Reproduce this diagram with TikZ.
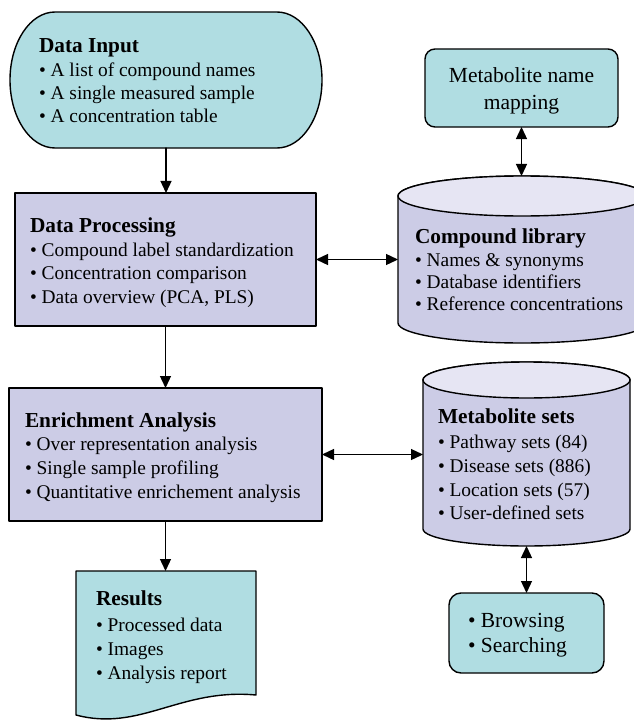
\documentclass[tikz,border=0pt]{standalone}
\usepackage{fontspec}
\setmainfont{Liberation Serif}
\usetikzlibrary{arrows.meta}
\definecolor{tealfill}{RGB}{176,221,226}
\definecolor{lavfill}{RGB}{204,204,230}
\definecolor{lavtop}{RGB}{230,229,243}

\begin{document}
\begin{tikzpicture}[x=1bp, y=1bp, line cap=round, line join=round,
  box/.style={draw=black, line width=1.4bp, inner sep=0pt, outer sep=0pt},
  frame/.style={inner sep=0pt, outer sep=0pt},
  edge/.style={draw=black, line width=1.3bp},
  txt/.style={anchor=base west, inner sep=0pt, outer sep=0pt, font=\fontsize{19.4bp}{23bp}\selectfont},
  head/.style={anchor=base west, inner sep=0pt, outer sep=0pt, font=\fontsize{21.3bp}{24bp}\selectfont\bfseries},
  big/.style={inner sep=0pt, outer sep=0pt, font=\fontsize{21.5bp}{25bp}\selectfont},
  one/.style={-{Triangle[length=12bp,width=11bp]}},
  two/.style={{Triangle[length=12bp,width=11bp]}-{Triangle[length=12bp,width=11bp]}}]
  \useasboundingbox (0,0) rectangle (634,-720);
  % left column
  \path[draw=black, fill=tealfill, line width=1.4bp] (55,-12) -- (277,-12)
    arc[start angle=90, end angle=-90, x radius=45, y radius=68] -- (55,-148)
    arc[start angle=270, end angle=90, x radius=45, y radius=68] -- cycle;
  \node[frame, minimum width=312bp, minimum height=136bp] (input) at (166,-80) {};
  \node[box, fill=lavfill, minimum width=301bp, minimum height=133bp] (proc) at (165.5,-259.5) {};
  \node[box, fill=lavfill, minimum width=313bp, minimum height=133bp] (enrich) at (165.5,-454.5) {};
  \path[draw=black, fill=tealfill, line width=1.4bp] (76,-571) -- (256,-571) -- (256,-695)
    .. controls (180,-688) and (140,-732) .. (76,-715) -- cycle;
  \node[frame, minimum width=180bp, minimum height=138bp] (results) at (166,-640) {};
  % right column
  \node[box, fill=tealfill, rounded corners=10bp, minimum width=193bp, minimum height=78bp] (map) at (521.5,-88) {};
  \path[draw=black, fill=lavfill, line width=1.4bp] (398,-196) -- (398,-323)
    arc[start angle=180, end angle=360, x radius=124, y radius=20] -- (646,-196)
    arc[start angle=0, end angle=180, x radius=124, y radius=20] -- cycle;
  \path[draw=black, fill=lavtop, line width=1.4bp] (522,-196) ellipse[x radius=124, y radius=20];
  \node[frame, minimum width=248bp, minimum height=167bp] (lib) at (522,-259.5) {};
  \path[draw=black, fill=lavfill, line width=1.4bp] (423,-380) -- (423,-529)
    arc[start angle=180, end angle=360, x radius=103.5, y radius=17] -- (630,-380)
    arc[start angle=0, end angle=180, x radius=103.5, y radius=18] -- cycle;
  \path[draw=black, fill=lavtop, line width=1.4bp] (526.5,-380) ellipse[x radius=103.5, y radius=18];
  \node[frame, minimum width=207bp, minimum height=184bp] (sets) at (526.5,-454) {};
  \node[box, fill=tealfill, rounded corners=12bp, minimum width=155bp, minimum height=80bp] (browse) at (526.5,-633) {};
  % texts
  \node[head] (input-head) at (39,-53) {Data Input};
  \node[txt] (input-a) at (39,-77) {• A list of compound names};
  \node[txt] (input-b) at (39,-100) {• A single measured sample};
  \node[txt] (input-c) at (39,-123) {• A concentration table};
  \node[head] (proc-head) at (30,-232) {Data Processing};
  \node[txt] (proc-a) at (30,-256) {• Compound label standardization};
  \node[txt] (proc-b) at (30,-279) {• Concentration comparison};
  \node[txt] (proc-c) at (30,-303) {• Data overview (PCA, PLS)};
  \node[head] (enrich-head) at (25,-427) {Enrichment Analysis};
  \node[txt] (enrich-a) at (25,-450) {• Over representation analysis};
  \node[txt] (enrich-b) at (25,-474) {• Single sample profiling};
  \node[txt] (enrich-c) at (25,-498) {• Quantitative enrichement analysis};
  \node[head] (results-head) at (96,-605) {Results};
  \node[txt] (results-a) at (96,-631) {• Processed data};
  \node[txt] (results-b) at (96,-655) {• Images};
  \node[txt] (results-c) at (96,-679) {• Analysis report};
  \node[big, anchor=base] (map-a) at (521.5,-83) {Metabolite name};
  \node[big, anchor=base] (map-b) at (521.5,-110) {mapping};
  \node[head] (lib-head) at (415,-243) {Compound library};
  \node[txt] (lib-a) at (415,-266) {• Names \& synonyms};
  \node[txt] (lib-b) at (415,-288) {• Database identifiers};
  \node[txt] (lib-c) at (415,-310) {• Reference concentrations};
  \node[head] (sets-head) at (438,-423) {Metabolite sets};
  \node[txt] (sets-a) at (438,-448) {• Pathway sets (84)};
  \node[txt] (sets-b) at (438,-472) {• Disease sets (886)};
  \node[txt] (sets-c) at (438,-496) {• Location sets (57)};
  \node[txt] (sets-d) at (438,-519) {• User-defined sets};
  \node[big, anchor=base west] (browse-a) at (468,-627) {• Browsing};
  \node[big, anchor=base west] (browse-b) at (468,-652) {• Searching};
  % connectors
  \path[edge, one] (input.south) -- (input.south |- proc.north);
  \path[edge, one] (proc.south) -- (enrich.north);
  \path[edge, one] (enrich.south) -- (enrich.south |- results.north);
  \path[edge, two] (proc.east) -- (lib.west);
  \path[edge, two] (enrich.east) -- (enrich.east -| sets.west);
  \path[edge, two] (map.south) -- (map.south |- lib.north);
  \path[edge, two] (sets.south) -- (browse.north);
\end{tikzpicture}
\end{document}
